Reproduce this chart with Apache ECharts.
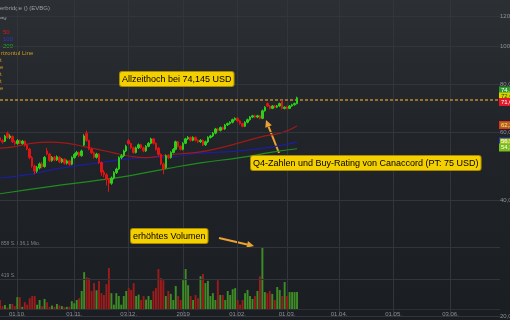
<!DOCTYPE html>
<html><head><meta charset="utf-8">
<script src="https://cdn.jsdelivr.net/npm/echarts@6/dist/echarts.min.js"></script>
<style>html,body{margin:0;padding:0;background:#1d2025;}#c{width:510px;height:320px;}</style>
</head><body><div id="c"></div>
<script>
// ---- data ----
const categoryCount = 203; // weekdays from 2018-09-20
const labelDates = ['2018-10-01','2018-11-01','2018-12-03','2019-01-02','2019-02-01','2019-03-01','2019-04-01','2019-05-01','2019-06-03'];
const priceTicks = [20, 40, 60, 80, 100, 120];
// [open, close, low, high]
const candles = [
[58.0,57.0,56.5,58.6],[57.0,56.5,56.0,57.5],[56.8,58.5,56.5,59.0],[59.5,58.0,57.6,60.2],[58.0,58.6,57.5,59.2],
[58.4,56.6,56.2,58.8],[56.6,56.0,55.5,57.0],[56.0,57.0,55.6,57.5],[57.0,56.2,55.8,57.4],[56.0,56.8,55.7,57.2],
[56.8,55.5,55.0,57.0],[55.5,54.2,53.8,55.9],[54.2,51.5,51.0,54.6],[51.5,49.0,48.5,52.0],[49.0,47.5,46.6,49.4],
[47.5,48.6,47.0,49.0],[48.4,49.6,48.0,50.0],[49.6,48.8,48.3,50.2],[48.8,51.6,48.5,52.0],[53.6,52.6,52.2,54.6],
[52.6,50.6,50.2,53.0],[50.6,51.6,50.2,52.0],[51.6,50.8,50.4,52.0],[50.8,51.8,50.5,52.2],[51.6,50.2,49.8,51.9],
[50.2,51.0,49.8,51.4],[51.0,49.8,49.4,51.3],[49.8,50.5,49.4,50.9],[50.5,49.5,49.0,50.8],[49.5,51.5,49.2,51.9],
[51.5,52.5,51.2,52.9],[52.5,53.1,52.0,53.6],[53.1,52.1,51.7,53.4],[52.1,53.6,51.8,54.0],[55.5,58.6,55.2,59.2],
[59.6,57.0,56.6,60.5],[57.0,54.2,53.8,57.3],[54.2,53.0,52.6,54.6],[53.0,51.6,51.2,53.4],[51.6,52.6,51.2,53.0],
[52.6,50.0,49.6,52.9],[50.0,47.2,46.2,50.3],[47.2,46.5,45.8,47.8],[46.5,45.2,43.6,46.9],[45.2,44.2,42.0,45.6],
[44.2,45.6,43.8,46.0],[45.6,47.1,45.2,47.5],[47.1,48.1,46.7,48.5],[48.1,51.5,47.8,51.9],[51.5,52.1,51.0,52.6],
[52.1,53.6,51.7,54.0],[53.6,55.1,53.2,55.6],[57.0,56.0,55.6,57.6],[56.0,54.6,54.2,56.3],[54.6,53.1,52.7,55.0],
[53.1,54.6,52.8,55.0],[54.6,55.6,54.2,56.0],[55.6,54.6,54.2,55.9],[54.6,53.6,53.2,55.0],[53.6,55.1,53.3,55.5],
[55.1,56.1,54.8,56.5],[56.1,57.6,55.8,58.0],[57.6,56.1,55.7,57.9],[56.1,54.1,53.7,56.4],[54.5,52.5,52.0,54.9],
[52.5,49.6,49.2,52.8],[49.6,48.1,46.6,50.0],[48.5,52.1,48.2,52.5],[52.1,51.5,51.0,52.5],[51.5,53.1,51.2,53.5],
[53.1,54.1,52.8,54.5],[54.1,56.6,53.8,57.0],[56.6,55.1,54.7,56.9],[55.1,54.1,53.7,55.4],[54.1,56.1,53.8,56.5],
[56.1,57.6,55.8,58.0],[57.6,58.1,57.2,58.6],[58.1,57.1,56.7,58.4],[57.1,58.1,56.8,58.5],[58.1,57.1,56.7,58.4],
[57.1,56.6,56.2,57.4],[56.6,57.1,56.2,57.5],[57.1,55.6,55.2,57.4],[55.6,56.6,55.2,57.0],[56.6,58.1,56.2,58.5],
[58.1,58.6,57.7,59.0],[58.6,59.6,58.2,60.0],[59.6,61.1,59.2,61.5],[61.1,60.6,60.2,61.5],[60.6,61.6,60.2,62.0],
[61.6,61.1,60.7,62.0],[61.1,62.6,60.8,63.0],[62.6,63.1,62.2,63.5],[63.1,63.6,62.7,64.0],[63.6,64.6,63.2,65.0],
[64.6,65.1,64.2,65.5],[65.1,64.1,63.7,65.5],[64.1,63.1,62.7,64.4],[63.1,62.1,61.7,63.4],[62.1,63.6,61.8,64.0],
[63.6,64.6,63.2,65.0],[64.6,65.6,64.2,66.0],[65.6,66.1,65.2,66.5],[66.1,65.6,65.2,66.5],[65.6,66.1,65.2,66.5],
[66.1,65.1,64.7,66.4],[65.1,68.1,64.8,68.6],[68.1,69.6,67.8,70.0],[71.1,70.1,69.7,71.6],[70.1,69.1,68.7,70.4],
[69.1,70.1,68.8,70.5],[70.1,69.6,69.2,70.5],[69.6,70.1,69.2,70.5],[70.1,71.1,69.8,71.5],[72.1,69.1,68.7,72.6],
[69.1,69.6,68.7,70.0],[69.6,69.1,68.7,70.0],[69.1,70.1,68.8,70.5],[70.1,70.6,69.8,71.0],[70.6,71.1,70.2,71.5],
[71.1,73.6,70.8,74.1]
];
const volumes = [125,40,55,20,70,70,40,165,165,30,95,60,150,180,180,60,125,40,140,95,30,50,30,70,50,40,25,30,30,110,
80,125,150,250,512,440,430,250,360,260,390,220,195,345,570,220,60,220,180,60,180,250,290,265,360,180,200,125,180,130,
180,125,250,290,555,430,400,180,250,210,125,320,180,125,400,555,330,180,125,195,150,455,485,360,390,180,220,125,400,195,
195,125,250,195,275,290,125,60,125,220,265,180,140,180,250,455,858,235,220,250,210,125,305,265,180,375,180,235,235,235,235];
const ma50 = [[0,54.5],[6,55],[12,56],[20,56.5],[28,56],[34,55],[40,54],[46,53],[52,52],[59,51.5],[65,52],[73,52.7],[81,53.3],[89,54.6],[97,56.3],[105,58.2],[114,59.8],[120,62.2]];
const ma100 = [[0,45.6],[12,46.6],[24,48.3],[40,49.9],[52,51.2],[60,51.5],[67,51.6],[81,52.9],[97,53.6],[110,54.9],[120,56.5]];
const ma200 = [[0,41.5],[20,43.3],[40,45.0],[52,46.2],[68,48.3],[81,49.9],[97,51.5],[110,53.2],[120,54.3]];
const horizontalLine = 72.6;
const volTicks = [[419,'419 S.'],[858,'858 S. / 36,1 Mio.']];
// value tags on the right edge: [position value, text, bg, border, text colour]
const tags = [
  [76.9,'74,14','#2f9a2a','#2f9a2a','#ffffff'],
  [74.2,'72,60','#d8d400','#d8d400','#3a3a00'],
  [71.8,'71,00','#e3182a','#e3182a','#ffffff'],
  [62.6,'62,25','#b5601c','#e0321e','#ffe680'],
  [56.7,'56,51','#a6c81c','#2a3ab8','#ffffff'],
  [54.7,'54,30','#7cbc1e','#7cbc1e','#ffffff']
];

// ---- build ----
const categories = [];
let d = new Date(Date.UTC(2018, 8, 20));
while (categories.length < categoryCount) {
  const wd = d.getUTCDay();
  if (wd !== 0 && wd !== 6) categories.push(d.toISOString().slice(0, 10));
  d = new Date(d.getTime() + 86400000);
}
const isLabel = (i, v) => labelDates.indexOf(v) >= 0;
const fmtDate = v => v === '2019-01-02' ? '2019' : v.slice(8, 10) + '.' + v.slice(5, 7) + '.';

const UP = '#2ccf1a', DOWN = '#e01414';
const volData = volumes.map((v, i) => ({
  value: v,
  itemStyle: { color: candles[i][1] >= candles[i][0] ? '#3f8c26' : '#9c1b1b' }
}));

function arrow(x1, y1, x2, y2, color) {
  const dx = x2 - x1, dy = y2 - y1, L = Math.hypot(dx, dy), ux = dx / L, uy = dy / L;
  const bx = x2 - ux * 7, by = y2 - uy * 7, px = -uy * 3.5, py = ux * 3.5;
  return { type: 'group', children: [
    { type: 'line', shape: { x1, y1, x2: bx, y2: by }, style: { stroke: color, lineWidth: 2 } },
    { type: 'polygon', shape: { points: [[x2, y2], [bx + px, by + py], [bx - px, by - py]] }, style: { fill: color } }
  ]};
}
const boxStyle = (text) => ({
  text, fill: '#000', font: '9px "Liberation Sans", Arial, sans-serif',
  backgroundColor: '#f5d000', borderColor: '#a88a00', borderWidth: 1, borderRadius: 2, padding: [3, 2, 2, 2]
});
const small = (text, color, size) => ({ text, fill: color, font: (size || 6) + 'px "Liberation Sans", Arial, sans-serif' });

const chart = echarts.init(document.getElementById('c'), null, { renderer: 'canvas' });
chart.setOption({
  animation: false,
  backgroundColor: new echarts.graphic.LinearGradient(0, 0, 0, 1, [
    { offset: 0, color: '#2c3035' }, { offset: 0.4, color: '#212428' }, { offset: 1, color: '#1a1d21' }
  ]),
  grid: [
    { left: 0, right: 10, top: 0, bottom: 4 },
    { left: 0, right: 10, top: 237, bottom: 11 }
  ],
  xAxis: [
    { type: 'category', data: categories, boundaryGap: false, gridIndex: 0,
      axisLine: { show: false }, axisTick: { show: false }, axisLabel: { show: false },
      splitLine: { show: true, interval: isLabel, lineStyle: { color: '#32363c', width: 1 } } },
    { type: 'category', data: categories, boundaryGap: false, gridIndex: 1,
      axisLine: { show: true, lineStyle: { color: '#2c3035' } }, axisTick: { show: false },
      axisLabel: { interval: isLabel, formatter: fmtDate, color: '#8e9399', fontSize: 6, margin: 2,
        fontFamily: 'Liberation Sans' },
      splitLine: { show: false } }
  ],
  yAxis: [
    { type: 'log', logBase: 10, min: 20, max: 132, gridIndex: 0, position: 'right',
      axisLine: { show: false }, axisTick: { show: false }, axisLabel: { show: false }, splitLine: { show: false } },
    { type: 'value', min: 0, max: 1000, gridIndex: 1, position: 'right',
      axisLine: { show: false }, axisTick: { show: false }, axisLabel: { show: false }, splitLine: { show: false } }
  ],
  series: [
    { type: 'bar', xAxisIndex: 1, yAxisIndex: 1, data: volData, barWidth: '78%', z: 1,
      markLine: { silent: true, symbol: 'none',
        data: volTicks.map(t => ({ yAxis: t[0],
          lineStyle: { color: '#32363c', width: 1, type: 'solid' },
          label: { show: true, position: 'insideStartTop', formatter: t[1], color: '#7d8288', fontSize: 5, distance: 1,
            fontFamily: 'Liberation Sans' } })) } },
    { type: 'line', name: 'MA200', data: ma200, smooth: true, symbol: 'none', z: 2,
      lineStyle: { color: '#1f8c1f', width: 1.2 },
      markLine: { silent: true, symbol: 'none',
        data: priceTicks.map(v => ({ yAxis: v,
          lineStyle: { color: '#32363c', width: 1, type: 'solid' },
          label: { show: true, position: 'end', distance: 0, formatter: v.toFixed(1).replace('.', ','),
            color: '#8e9399', fontSize: 6, fontFamily: 'Liberation Sans' } })) } },
    { type: 'line', name: 'MA100', data: ma100, smooth: true, symbol: 'none', z: 2,
      lineStyle: { color: '#1c1ea0', width: 1.2 } },
    { type: 'line', name: 'MA50', data: ma50, smooth: true, symbol: 'none', z: 2,
      lineStyle: { color: '#a01a1a', width: 1.2 } },
    { type: 'candlestick', data: candles, barWidth: 2, z: 5,
      itemStyle: { color: UP, color0: DOWN, borderColor: UP, borderColor0: DOWN, borderWidth: 1 },
      markLine: { silent: true, symbol: 'none',
        data: [{ yAxis: horizontalLine, lineStyle: { color: '#c08a2c', width: 1.5, type: [3, 2] }, label: { show: false } }]
          .concat(tags.map(t => ({ yAxis: t[0], lineStyle: { color: 'rgba(0,0,0,0)', width: 0 },
            label: { show: true, position: 'end', distance: 0, formatter: t[1], color: t[4], fontSize: 6,
              fontFamily: 'Liberation Sans', backgroundColor: t[2], borderColor: t[3], borderWidth: 1, padding: [0, 1] } }))) } }
  ],
  graphic: [
    { type: 'text', left: 0, top: 5, style: small('erbridge () (EVBG)', '#9a9ea4') },
    { type: 'text', left: 0, top: 14, style: small('ag', '#9a9ea4') },
    { type: 'text', left: 3, top: 29, style: small('50', '#c42020') },
    { type: 'text', left: 3, top: 36, style: small('100', '#2a36d0') },
    { type: 'text', left: 3, top: 43, style: small('200', '#22b022') },
    { type: 'text', left: 1, top: 50, style: small('rizontal Line', '#d09a20') },
    { type: 'text', left: 0, top: 57, style: small('t', '#d09a20') },
    { type: 'text', left: 0, top: 64, style: small('e', '#d09a20') },
    { type: 'text', left: 0, top: 71, style: small('t', '#d09a20') },
    { type: 'text', left: 0, top: 78, style: small('t', '#d09a20') },
    { type: 'text', left: 0, top: 85, style: small('e', '#d09a20') },
    { type: 'text', left: 119, top: 71, z: 20, style: boxStyle('Allzeithoch bei 74,145 USD') },
    { type: 'text', left: 250, top: 155, z: 20, style: boxStyle('Q4-Zahlen und Buy-Rating von Canaccord (PT: 75 USD)') },
    { type: 'text', left: 130, top: 228, z: 20, style: boxStyle('erhöhtes Volumen') },
    Object.assign(arrow(279, 153, 266, 120, '#eba234'), { z: 20 }),
    Object.assign(arrow(219, 238, 254, 246, '#eba234'), { z: 20 })
  ]
});
</script></body></html>
